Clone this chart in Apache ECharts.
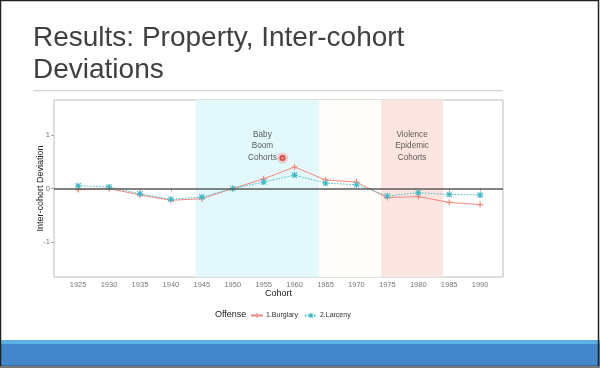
<!DOCTYPE html>
<html><head><meta charset="utf-8">
<script src="https://cdn.jsdelivr.net/npm/echarts@6/dist/echarts.min.js"></script>
<style>html,body{margin:0;padding:0;background:#fff}#c{width:600px;height:368px}</style>
</head><body><div id="c"></div>
<script>
const cohorts = [1925,1930,1935,1940,1945,1950,1955,1960,1965,1970,1975,1980,1985,1990];
const burglary = [-0.02,0.0,-0.12,-0.22,-0.19,0.0,0.18,0.40,0.16,0.12,-0.17,-0.15,-0.26,-0.30];
const larceny  = [0.05,0.03,-0.10,-0.20,-0.16,0.0,0.12,0.25,0.10,0.07,-0.14,-0.08,-0.11,-0.12];
const xTicks = [1925,1930,1935,1940,1945,1950,1955,1960,1965,1970,1975,1980,1985,1990];
const yTicks = [-1,0,1];
const babyBoom = [1944,1964];
const between = [1964,1974];
const violence = [1974,1984];
const notes = [
  {x:1954.8, y:0.79, text:'Baby\nBoom\nCohorts'},
  {x:1979, y:0.79, text:'Violence\nEpidemic\nCohorts'}
];
const seriesNames = ['1.Burglary','2.Larceny'];

const plus = 'path://M4,0H6V4H10V6H6V10H4V6H0V4H4Z';
const star = 'path://M4,0H6V4H10V6H6V10H4V6H0V4H4Z M0,1L1,0L10,9L9,10Z M9,0L10,1L1,10L0,9Z';
const red = '#f3877d', teal = '#3fb9c5';
const font = 'Liberation Sans';

const chart = echarts.init(document.getElementById('c'), null, {renderer:'canvas'});
chart.setOption({
  animation:false,
  backgroundColor:'#fff',
  textStyle:{fontFamily:font},
  grid:{left:54, right:97, top:100, bottom:91, show:true, borderColor:'#bdbdbd', borderWidth:1, backgroundColor:'transparent'},
  xAxis:{type:'value', min:1921.1, max:1993.7,
    name:'Cohort', nameLocation:'middle', nameGap:12, nameMoveOverlap:false, nameTextStyle:{fontSize:9, color:'#222'},
    axisLine:{show:false}, splitLine:{show:false},
    axisTick:{show:true, length:3, lineStyle:{color:'#aaa'}, customValues:xTicks},
    axisLabel:{fontSize:7.5, color:'#777', margin:4, customValues:xTicks, formatter:v=>String(v)}
  },
  yAxis:{type:'value', min:-1.65, max:1.65,
    name:'Inter-cohort Deviation', nameLocation:'middle', nameGap:9, nameMoveOverlap:false, nameTextStyle:{fontSize:9, color:'#222'},
    axisLine:{show:false}, splitLine:{show:false},
    axisTick:{show:true, length:3, lineStyle:{color:'#aaa'}, customValues:yTicks},
    axisLabel:{fontSize:7.5, color:'#777', margin:4, customValues:yTicks, formatter:v=>String(v)}
  },
  legend:{left:245, top:307, itemWidth:12, itemHeight:6, itemGap:6,
    textStyle:{fontSize:7, color:'#333', padding:[0,0,0,-2]},
    data:seriesNames},
  graphic:[
    {type:'text', left:33, top:22, style:{text:'Results: Property, Inter-cohort\nDeviations', font:'28px "Liberation Sans"', fill:'#404040', lineHeight:32}},
    {type:'rect', shape:{x:33, y:90, width:470, height:1.2}, style:{fill:'#d4d4d4'}},
    {type:'text', left:215, top:310, style:{text:'Offense', font:'9px "Liberation Sans"', fill:'#222'}},
    {type:'rect', shape:{x:0, y:340, width:600, height:26}, style:{fill:'#4187c9'}},
    {type:'rect', shape:{x:0, y:340, width:600, height:4}, style:{fill:'#5cb0e4'}},
    {type:'rect', shape:{x:0.5, y:0.5, width:598, height:366}, style:{fill:null, stroke:'#222', lineWidth:1.5}},
    {type:'rect', shape:{x:0, y:366, width:600, height:2}, style:{fill:'#777'}},
    {type:'circle', z:100, shape:{cx:282.5, cy:158, r:5.5}, style:{fill:'rgba(240,120,120,0.35)'}},
    {type:'circle', z:101, shape:{cx:282.5, cy:158, r:3}, style:{fill:'#e8413c'}},
    {type:'circle', z:102, shape:{cx:282.5, cy:158, r:1.2}, style:{fill:'#f7b5b0'}}
  ],
  series:[
    {type:'line', name:'bg', data:[], silent:true,
      markArea:{silent:true, data:[
        [{xAxis:babyBoom[0], itemStyle:{color:'#e3f8fb'}},{xAxis:babyBoom[1]}],
        [{xAxis:between[0], itemStyle:{color:'#fffefa'}},{xAxis:between[1]}],
        [{xAxis:violence[0], itemStyle:{color:'#fbe5e1'}},{xAxis:violence[1]}]
      ]},
      markLine:{silent:true, symbol:'none', label:{show:false}, lineStyle:{color:'#5a5a5a', width:1.6, type:'solid'}, data:[{yAxis:0}]}
    },
    {type:'line', name:seriesNames[0], data:cohorts.map((c,i)=>[c,burglary[i]]),
      symbol:plus, symbolSize:6, showAllSymbol:true,
      lineStyle:{color:red, width:1}, itemStyle:{color:red}, z:3},
    {type:'line', name:seriesNames[1], data:cohorts.map((c,i)=>[c,larceny[i]]),
      symbol:star, symbolSize:6, showAllSymbol:true,
      lineStyle:{color:teal, width:1, type:[1.5,1.5]}, itemStyle:{color:teal}, z:4},
    {type:'scatter', name:'notes', silent:true, symbolSize:0, data:notes.map(n=>({value:[n.x,n.y], name:n.text})),
      label:{show:true, position:'inside', formatter:p=>p.name, fontSize:8.2, lineHeight:11.5, color:'#333', align:'center'}}
  ]
});
</script></body></html>
